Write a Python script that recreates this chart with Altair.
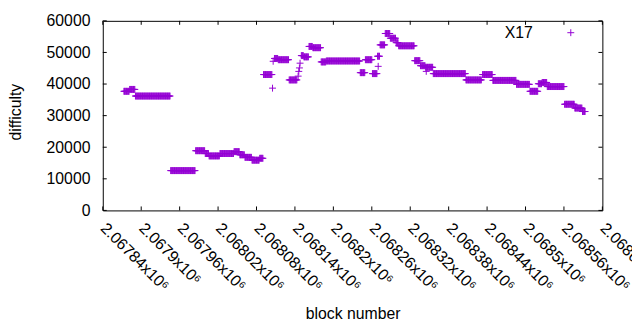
import altair as alt
import pandas as pd

# Runs of constant difficulty: [start block, end block), difficulty
seg_start = [2067873, 2067882, 2067891, 2067946, 2067985, 2068000, 2068006, 2068023, 2068045,
             2068054, 2068062, 2068073, 2068085, 2068091, 2068108, 2068114, 2068131, 2068150,
             2068154, 2068162, 2068168, 2068181, 2068189, 2068242, 2068250, 2068261, 2068269,
             2068273, 2068281, 2068289, 2068298, 2068302, 2068327, 2068336, 2068344, 2068356,
             2068407, 2068433, 2068449, 2068486, 2068507, 2068520, 2068526, 2068534, 2068561,
             2068577, 2068589]
seg_end = [2067882, 2067891, 2067946, 2067985, 2068000, 2068006, 2068023, 2068045, 2068054,
           2068062, 2068073, 2068085, 2068091, 2068105, 2068114, 2068131, 2068144, 2068154,
           2068162, 2068168, 2068181, 2068189, 2068242, 2068250, 2068261, 2068269, 2068273,
           2068281, 2068289, 2068298, 2068302, 2068327, 2068336, 2068344, 2068356, 2068407,
           2068432, 2068449, 2068486, 2068507, 2068520, 2068526, 2068534, 2068561, 2068577,
           2068589, 2068594]
seg_value = [37700, 38300, 36200, 12600, 18900, 18000, 17250, 18000, 18600,
             17600, 16800, 15900, 16500, 43000, 48100, 47700, 41300, 49000,
             48600, 51900, 51500, 47000, 47300, 43600, 47700, 43300, 48800,
             52400, 56000, 54500, 53100, 52100, 47400, 45800, 45300, 43300,
             41300, 43000, 41150, 39900, 37700, 40100, 40500, 39200, 33600,
             32400, 31300]

# Isolated blocks
single_block = [2068105, 2068106, 2068145, 2068146, 2068147, 2068148, 2068270, 2068345]
single_value = [38700, 47200, 42500, 44000, 45100, 46600, 45600, 44000]

series_name = "X17"
x_ticks = [2067840, 2067900, 2067960, 2068020, 2068080, 2068140, 2068200, 2068260,
           2068320, 2068380, 2068440, 2068500, 2068560, 2068620]
y_ticks = [0, 10000, 20000, 30000, 40000, 50000, 60000]

rows = []
for s, e, v in zip(seg_start, seg_end, seg_value):
    for b in range(s, e):
        rows.append({"block": b, "difficulty": v, "series": series_name})
for b, v in zip(single_block, single_value):
    rows.append({"block": b, "difficulty": v, "series": series_name})
df = pd.DataFrame(rows)

PLUS = "M-1,0L1,0M0,-1L0,1"
COLOR = "#9400D3"
FONT = "Liberation Sans"
FS = 16
W, H = 506, 192

xscale = alt.Scale(domain=[x_ticks[0], x_ticks[-1]], nice=False, zero=False)
yscale = alt.Scale(domain=[0, 60000], nice=False, zero=False)

xaxis = alt.Axis(
    values=x_ticks, labelExpr="format(datum.value/1e6, '.6~g') + 'x10⁶'",
    labelAngle=45, labelAlign="left", labelBaseline="middle", labelPadding=15,
    ticks=False, domain=False, grid=False, labelFont=FONT, labelFontSize=FS,
    labelColor="black", labelOverlap=False, labelBound=False, labelFlush=False,
    title="block number", titleFont=FONT, titleFontSize=FS, titleFontWeight="normal",
    titleColor="black", titleY=104, titleBaseline="middle")
yaxis = alt.Axis(
    values=y_ticks, ticks=False, domain=False, grid=False, labelPadding=13,
    labelFont=FONT, labelFontSize=FS, labelColor="black", format="d",
    labelOverlap=False, labelBound=False, labelFlush=False,
    title="difficulty", titleFont=FONT, titleFontSize=FS, titleFontWeight="normal",
    titleColor="black", titleX=-88, titleY=92, titleAlign="center",
    titleBaseline="middle")

points = alt.Chart(df).mark_point(
    shape=PLUS, size=49, filled=False, strokeWidth=1, opacity=1
).encode(
    x=alt.X("block:Q", scale=xscale, axis=xaxis),
    y=alt.Y("difficulty:Q", scale=yscale, axis=yaxis),
    color=alt.Color("series:N", scale=alt.Scale(domain=[series_name], range=[COLOR]),
                    legend=alt.Legend(title=series_name, titleOrient="left",
                                      titleFont=FONT, titleFontSize=FS,
                                      titleFontWeight="normal", titleColor="black",
                                      titlePadding=30, titleBaseline="middle",
                                      orient="none", legendX=407, legendY=4,
                                      symbolType=PLUS, symbolSize=49, symbolStrokeWidth=1,
                                      symbolFillColor="transparent",
                                      labelOpacity=0, labelFontSize=FS, padding=0)),
)

xt = pd.DataFrame({"block": x_ticks})
yt = pd.DataFrame({"difficulty": y_ticks})
TL = 4
xs = alt.X("block:Q", scale=xscale, axis=xaxis)
ys = alt.Y("difficulty:Q", scale=yscale, axis=yaxis)
tick_bottom = alt.Chart(xt).mark_rule(color="black", strokeWidth=1).encode(
    x=xs, y=alt.value(H), y2=alt.value(H - TL))
tick_top = alt.Chart(xt).mark_rule(color="black", strokeWidth=1).encode(
    x=xs, y=alt.value(0), y2=alt.value(TL))
tick_left = alt.Chart(yt).mark_rule(color="black", strokeWidth=1).encode(
    y=ys, x=alt.value(0), x2=alt.value(TL))
tick_right = alt.Chart(yt).mark_rule(color="black", strokeWidth=1).encode(
    y=ys, x=alt.value(W), x2=alt.value(W - TL))

chart = alt.layer(points, tick_bottom, tick_top, tick_left, tick_right).properties(
    width=W, height=H,
    autosize=alt.AutoSizeParams(type="none"),
    padding={"left": 96, "top": 11, "right": 30, "bottom": 111},
    background="white",
).configure_view(stroke="black", strokeWidth=1)

chart.save("out.html", embed_options={"renderer": "svg", "actions": False})
